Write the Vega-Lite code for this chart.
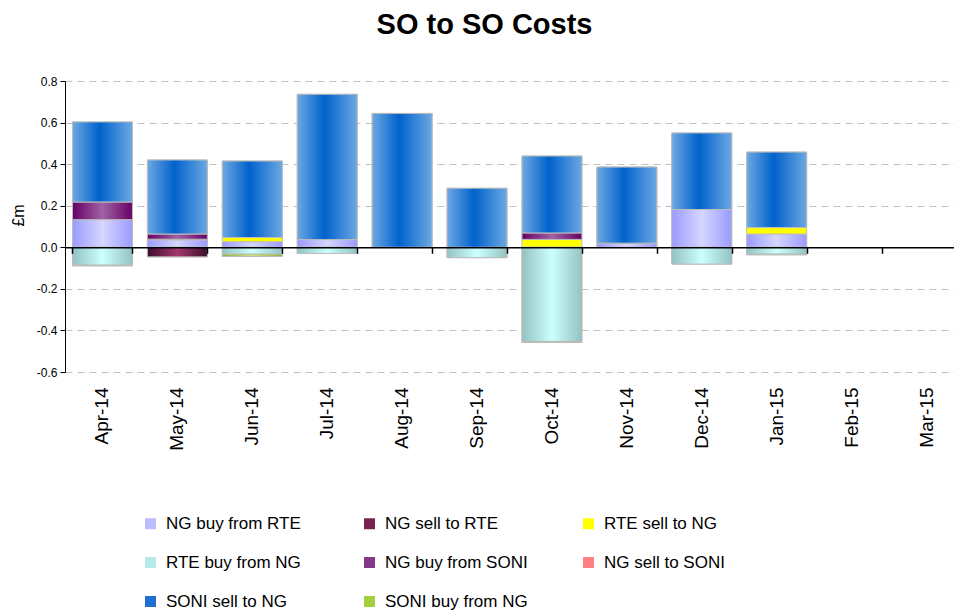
{
  "$schema": "https://vega.github.io/schema/vega-lite/v6.json",
  "width": 889,
  "height": 291,
  "autosize": "none",
  "padding": {"left": 65, "top": 81, "right": 0, "bottom": 240},
  "background": "white",
  "title": {"text": "SO to SO Costs", "fontSize": 29, "font": "Liberation Sans", "fontWeight": "bold", "color": "black", "anchor": "middle", "dx": -25, "offset": 12, "baseline": "alphabetic"},
  "config": {
    "view": {"stroke": null},
    "font": "Liberation Sans",
    "locale": {"number": {"decimal": ".", "thousands": ",", "grouping": [3], "currency": ["£", ""], "minus": "-"}}
  },
  "data": {"values": [
    {"month": "Apr-14", "series": "NG buy from RTE", "k": 1, "value": 0.133},
    {"month": "Apr-14", "series": "RTE buy from NG", "k": 4, "value": -0.086},
    {"month": "Apr-14", "series": "NG buy from SONI", "k": 5, "value": 0.085},
    {"month": "Apr-14", "series": "SONI sell to NG", "k": 7, "value": 0.385},
    {"month": "Apr-14", "series": "SONI buy from NG", "k": 8, "value": -0.003},
    {"month": "May-14", "series": "NG buy from RTE", "k": 1, "value": 0.035},
    {"month": "May-14", "series": "NG sell to RTE", "k": 2, "value": -0.046},
    {"month": "May-14", "series": "RTE sell to NG", "k": 3, "value": 0.004},
    {"month": "May-14", "series": "NG buy from SONI", "k": 5, "value": 0.025},
    {"month": "May-14", "series": "SONI sell to NG", "k": 7, "value": 0.356},
    {"month": "Jun-14", "series": "NG buy from RTE", "k": 1, "value": 0.026},
    {"month": "Jun-14", "series": "RTE sell to NG", "k": 3, "value": 0.021},
    {"month": "Jun-14", "series": "RTE buy from NG", "k": 4, "value": -0.033},
    {"month": "Jun-14", "series": "SONI sell to NG", "k": 7, "value": 0.368},
    {"month": "Jun-14", "series": "SONI buy from NG", "k": 8, "value": -0.011},
    {"month": "Jul-14", "series": "NG buy from RTE", "k": 1, "value": 0.037},
    {"month": "Jul-14", "series": "NG sell to RTE", "k": 2, "value": -0.002},
    {"month": "Jul-14", "series": "RTE buy from NG", "k": 4, "value": -0.028},
    {"month": "Jul-14", "series": "SONI sell to NG", "k": 7, "value": 0.699},
    {"month": "Aug-14", "series": "SONI sell to NG", "k": 7, "value": 0.644},
    {"month": "Sep-14", "series": "RTE buy from NG", "k": 4, "value": -0.05},
    {"month": "Sep-14", "series": "SONI sell to NG", "k": 7, "value": 0.284},
    {"month": "Oct-14", "series": "RTE sell to NG", "k": 3, "value": 0.038},
    {"month": "Oct-14", "series": "RTE buy from NG", "k": 4, "value": -0.453},
    {"month": "Oct-14", "series": "NG buy from SONI", "k": 5, "value": 0.031},
    {"month": "Oct-14", "series": "SONI sell to NG", "k": 7, "value": 0.37},
    {"month": "Oct-14", "series": "SONI buy from NG", "k": 8, "value": -0.005},
    {"month": "Nov-14", "series": "NG buy from RTE", "k": 1, "value": 0.02},
    {"month": "Nov-14", "series": "SONI sell to NG", "k": 7, "value": 0.366},
    {"month": "Dec-14", "series": "NG buy from RTE", "k": 1, "value": 0.182},
    {"month": "Dec-14", "series": "RTE buy from NG", "k": 4, "value": -0.081},
    {"month": "Dec-14", "series": "SONI sell to NG", "k": 7, "value": 0.368},
    {"month": "Jan-15", "series": "NG buy from RTE", "k": 1, "value": 0.063},
    {"month": "Jan-15", "series": "RTE sell to NG", "k": 3, "value": 0.032},
    {"month": "Jan-15", "series": "RTE buy from NG", "k": 4, "value": -0.033},
    {"month": "Jan-15", "series": "SONI sell to NG", "k": 7, "value": 0.363},
    {"month": "Jan-15", "series": "SONI buy from NG", "k": 8, "value": -0.003}
  ]},
  "transform": [
    {"stack": "value", "groupby": ["month"], "sort": [{"field": "k", "order": "ascending"}], "as": ["v0", "v1"], "offset": "zero"}
  ],
  "layer": [
    {
      "encoding": {
        "x": {
          "field": "month", "type": "nominal",
          "scale": {"domain": ["Apr-14", "May-14", "Jun-14", "Jul-14", "Aug-14", "Sep-14", "Oct-14", "Nov-14", "Dec-14", "Jan-15", "Feb-15", "Mar-15"], "range": [0, 899], "paddingInner": 0.2, "paddingOuter": 0.1},
          "axis": {"title": null, "labelAngle": -90, "labelAlign": "right", "labelBaseline": "middle", "labelFontSize": 19, "labelColor": "black", "labelPadding": 15, "ticks": false, "tickSize": 0, "domain": false, "grid": false}
        },
        "y": {
          "field": "v0", "type": "quantitative",
          "scale": {"domain": [-0.6, 0.8], "nice": false, "zero": false},
          "axis": {"title": "£m", "values": [-0.6, -0.4, -0.2, 0, 0.2, 0.4, 0.6, 0.8], "format": ".1f", "grid": true, "gridDash": [7, 5], "gridColor": "#c0c0c0", "gridWidth": 1, "domainColor": "black", "domainWidth": 1, "tickColor": "black", "tickSize": 5, "labelFontSize": 12, "labelColor": "black", "labelPadding": 3, "titleFontSize": 16, "titleFontWeight": "normal", "titleColor": "black", "titlePadding": 10, "titleY": 134}
        },
        "y2": {"field": "v1"}
      },
      "layer": [
        {
          "mark": {"type": "bar", "stroke": "#bdbdbd", "strokeWidth": 1},
          "encoding": {
            "color": {
              "field": "series", "type": "nominal",
              "scale": {
                "domain": ["NG buy from RTE", "NG sell to RTE", "RTE sell to NG", "RTE buy from NG", "NG buy from SONI", "NG sell to SONI", "SONI sell to NG", "SONI buy from NG"],
                "range": ["#bcbcff", "#7a2050", "#ffff00", "#b8eaea", "#84388a", "#ff8080", "#1f6fd2", "#a4d040"]
              },
              "legend": {"title": null, "orient": "none", "direction": "horizontal", "legendX": 77, "legendY": 434, "columns": 3, "gridAlign": "all", "columnPadding": 52, "rowPadding": 21, "symbolType": "square", "symbolSize": 120, "symbolStrokeWidth": 0, "labelFontSize": 17, "labelColor": "black", "labelOffset": 7, "labelLimit": 300, "padding": 0}
            }
          }
        },
        {
          "transform": [{"filter": "datum.series == 'NG buy from RTE'"}],
          "mark": {"type": "bar", "stroke": "#bdbdbd", "strokeWidth": 1, "color": {"gradient": "linear", "x1": 0, "x2": 1, "y1": 0, "y2": 0, "stops": [{"offset": 0, "color": "#9a9aff"}, {"offset": 0.5, "color": "#d6d6ff"}, {"offset": 1, "color": "#9a9aff"}]}}
        },
        {
          "transform": [{"filter": "datum.series == 'NG sell to RTE'"}],
          "mark": {"type": "bar", "stroke": "#bdbdbd", "strokeWidth": 1, "color": {"gradient": "linear", "x1": 0, "x2": 1, "y1": 0, "y2": 0, "stops": [{"offset": 0, "color": "#3c0c2c"}, {"offset": 0.5, "color": "#a23a6c"}, {"offset": 1, "color": "#3c0c2c"}]}}
        },
        {
          "transform": [{"filter": "datum.series == 'RTE buy from NG'"}],
          "mark": {"type": "bar", "stroke": "#bdbdbd", "strokeWidth": 1, "color": {"gradient": "linear", "x1": 0, "x2": 1, "y1": 0, "y2": 0, "stops": [{"offset": 0, "color": "#94c2c2"}, {"offset": 0.5, "color": "#ccffff"}, {"offset": 1, "color": "#94c2c2"}]}}
        },
        {
          "transform": [{"filter": "datum.series == 'NG buy from SONI'"}],
          "mark": {"type": "bar", "stroke": "#bdbdbd", "strokeWidth": 1, "color": {"gradient": "linear", "x1": 0, "x2": 1, "y1": 0, "y2": 0, "stops": [{"offset": 0, "color": "#660066"}, {"offset": 0.5, "color": "#a062a2"}, {"offset": 1, "color": "#660066"}]}}
        },
        {
          "transform": [{"filter": "datum.series == 'SONI sell to NG'"}],
          "mark": {"type": "bar", "stroke": "#bdbdbd", "strokeWidth": 1, "color": {"gradient": "linear", "x1": 0, "x2": 1, "y1": 0, "y2": 0, "stops": [{"offset": 0, "color": "#6ca8e2"}, {"offset": 0.45, "color": "#0062cc"}, {"offset": 1, "color": "#6ca8e2"}]}}
        },
        {
          "transform": [{"filter": "datum.series == 'SONI buy from NG'"}],
          "mark": {"type": "bar", "stroke": "#bdbdbd", "strokeWidth": 1, "color": {"gradient": "linear", "x1": 0, "x2": 1, "y1": 0, "y2": 0, "stops": [{"offset": 0, "color": "#86b626"}, {"offset": 0.5, "color": "#c8e870"}, {"offset": 1, "color": "#86b626"}]}}
        }
      ]
    },
    {
      "mark": {"type": "point", "opacity": 0},
      "encoding": {
        "x": {
          "field": "month", "type": "nominal",
          "axis": {"title": null, "orient": "bottom", "offset": -124.7, "labels": false, "ticks": true, "tickBand": "extent", "tickSize": 6, "tickColor": "black", "tickWidth": 1.5, "domain": true, "domainColor": "black", "domainWidth": 1.5, "grid": false, "zindex": 1}
        }
      }
    }
  ],
  "resolve": {"axis": {"x": "independent"}}
}
